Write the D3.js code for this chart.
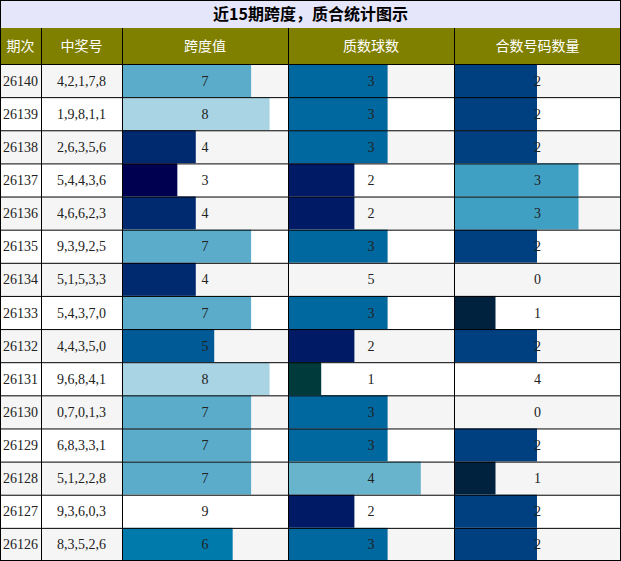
<!DOCTYPE html><html><head><meta charset="utf-8"><script src="https://cdn.jsdelivr.net/npm/d3@7"></script>
<style>body{margin:0;background:#fff}</style></head><body><svg id="c" width="621" height="561"></svg><script>
const title="近15期跨度，质合统计图示";
const headers=["期次","中奖号","跨度值","质数球数","合数号码数量"];
const periods=["26140","26139","26138","26137","26136","26135","26134","26133","26132","26131","26130","26129","26128","26127","26126"];
const numbers=["4,2,1,7,8","1,9,8,1,1","2,6,3,5,6","5,4,4,3,6","4,6,6,2,3","9,3,9,2,5","5,1,5,3,3","5,4,3,7,0","4,4,3,5,0","9,6,8,4,1","0,7,0,1,3","6,8,3,3,1","5,1,2,2,8","9,3,6,0,3","8,3,5,2,6"];
const span=[7,8,4,3,4,7,4,7,5,8,7,7,7,9,6];
const prime=[3,3,3,2,2,3,5,3,2,1,3,3,4,2,3];
const comp=[2,2,2,3,3,2,0,1,2,4,0,2,1,2,2];
const spanCol={3:"#000050",4:"#002a70",5:"#005a96",6:"#007aaa",7:"#5aacca",8:"#a8d4e4",9:"none"};
const primeCol={1:"#003a3a",2:"#001a66",3:"#00689e",4:"#68b4cc",5:"none"};
const compCol={0:"none",1:"#00223f",2:"#003f80",3:"#40a0c4",4:"none"};
const svg=d3.select("#c");
const colX=[0,41,122,288,454,621];
const top0=28,headH=36,W=621;
const y=d3.scaleBand().domain(periods).range([top0+headH,561]);
svg.append("rect").attr("x",0.5).attr("y",0.5).attr("width",620).attr("height",top0).attr("fill","#e6e6fa").attr("stroke","#000");
svg.append("text").attr("x",W/2).attr("y",20).attr("text-anchor","middle").attr("font-family","Noto Sans CJK SC").attr("font-weight","bold").attr("font-size",16).text(title);
svg.append("rect").attr("x",0).attr("y",top0).attr("width",W).attr("height",headH).attr("fill","#808000");
headers.forEach((h,i)=>svg.append("text").attr("x",(colX[i]+colX[i+1])/2).attr("y",top0+headH/2+5).attr("text-anchor","middle").attr("fill","#fff").attr("font-family","Noto Sans CJK SC").attr("font-size",14).text(h));
const bw=166;
const sx=d3.scaleLinear().domain([0,9]).range([0,bw]);
const px=d3.scaleLinear().domain([0,5]).range([0,bw]);
const cx=d3.scaleLinear().domain([0,4]).range([0,bw]);
periods.forEach((p,i)=>{
 const yy=y(p),h=y.bandwidth();
 svg.append("rect").attr("x",0).attr("y",yy).attr("width",W).attr("height",h).attr("fill",i%2?"#fff":"#f5f5f5");
 [[span[i],sx,spanCol,2],[prime[i],px,primeCol,3],[comp[i],cx,compCol,4]].forEach(([v,s,c,k])=>{
  if(c[v]!=="none") svg.append("rect").attr("x",colX[k]).attr("y",yy).attr("width",s(v)).attr("height",h).attr("fill",c[v]);
 });
 const vals=[p,numbers[i],span[i],prime[i],comp[i]];
 vals.forEach((v,k)=>svg.append("text").attr("x",(colX[k]+colX[k+1])/2).attr("y",yy+h/2+5).attr("text-anchor","middle").attr("font-family","Liberation Serif").attr("font-size",14).attr("fill","#222").text(v));
});
const g=svg.append("g").attr("stroke","#000").attr("stroke-width",1);
periods.forEach(p=>g.append("line").attr("x1",0).attr("x2",W).attr("y1",y(p)+0.5).attr("y2",y(p)+0.5));
g.append("line").attr("x1",0).attr("x2",W).attr("y1",560.5).attr("y2",560.5);
colX.forEach(x=>{const xx=x===621?620.5:x+0.5;g.append("line").attr("x1",xx).attr("x2",xx).attr("y1",top0).attr("y2",561);});
</script></body></html>
